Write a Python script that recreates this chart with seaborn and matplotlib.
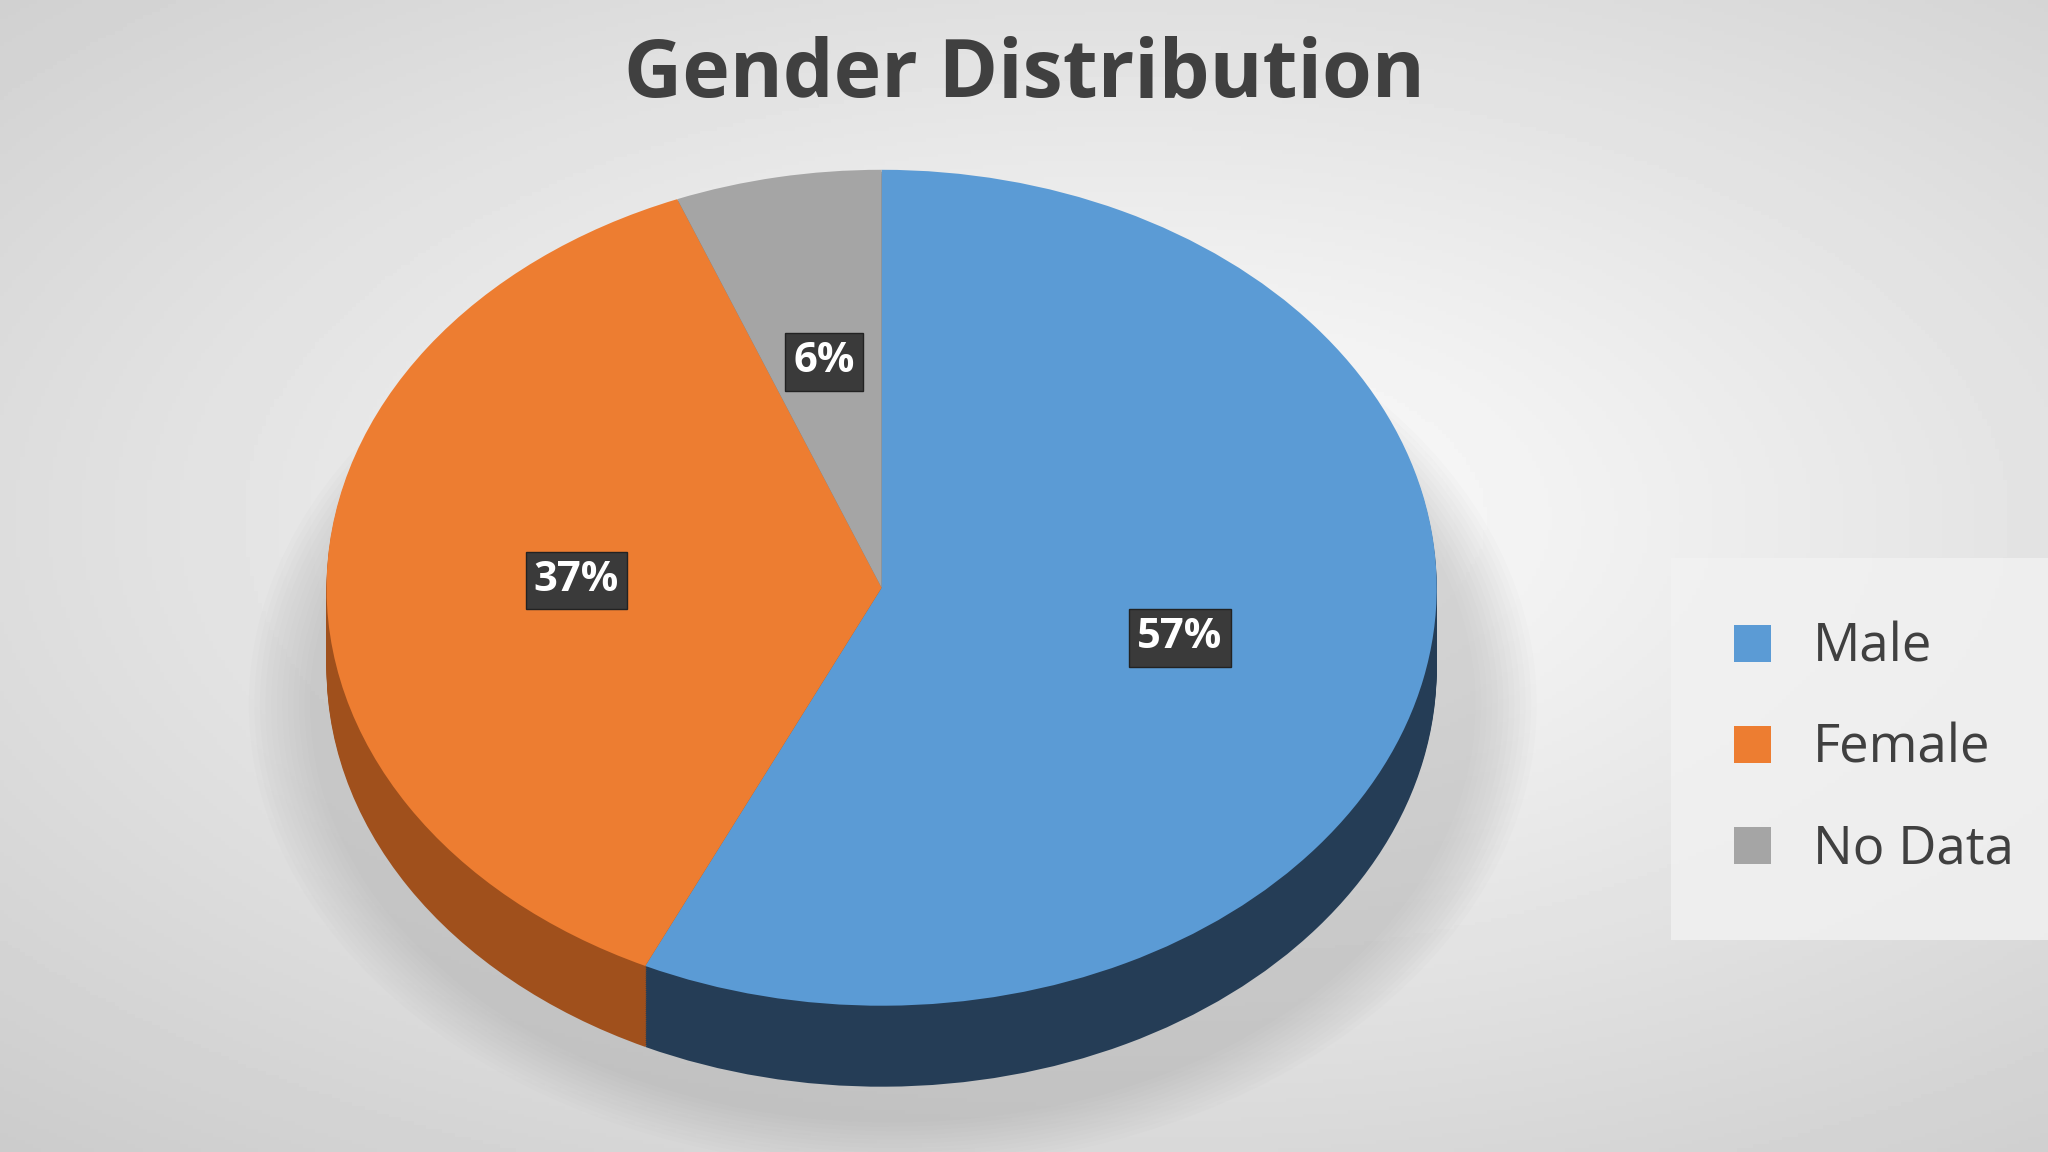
import numpy as np
import matplotlib.pyplot as plt
import seaborn as sns

sns.set_theme(style="white")
plt.rcParams['font.family'] = ['Open Sans', 'DejaVu Sans']

categories = ["Male", "Female", "No Data"]
shares = [57, 37, 6]
top_colors = ["#5b9bd5", "#ed7d31", "#a5a5a5"]
side_colors = ["#253d56", "#a0501c", "#6e6e6e"]

fig = plt.figure(figsize=(20.48, 11.52), dpi=100)

# radial grey background
bg = fig.add_axes([0, 0, 1, 1])
yy, xx = np.mgrid[0:1:300j, 0:1:500j]
r = np.sqrt(((xx - 0.55) / 0.9) ** 2 + ((yy - 0.45) / 0.8) ** 2)
bg.imshow(1 - 0.22 * np.clip(r, 0, 1), cmap="gray", vmin=0, vmax=1, aspect="auto", extent=(0, 1, 0, 1))
bg.axis("off")

# pie axes: unit circle maps onto the ellipse of the reference
W, H = 1568, 882
cx, cy, rx, ry = 675, 450, 425, 320
ax = fig.add_axes([0, 0, 1, 1])
ax.patch.set_alpha(0)
xlim = (-cx / rx, (W - cx) / rx)
ylim = (-(H - cy) / ry, cy / ry)

# soft shadow
for k in range(12):
    ax.add_patch(plt.matplotlib.patches.Ellipse((0.02, -0.28), 2.1 + k * 0.02, 2.0 + k * 0.02,
                                                color="#9a9a9a", alpha=0.03, lw=0))

depth = 62 / ry
for d in np.linspace(depth, 0, 40)[:-1]:
    ax.pie(shares, colors=side_colors, startangle=90, counterclock=False,
           center=(0, -d), radius=1, wedgeprops=dict(linewidth=0))

wedges, texts, autotexts = ax.pie(
    shares, colors=top_colors, startangle=90, counterclock=False,
    autopct="%1.0f%%", pctdistance=0.55, radius=1,
    wedgeprops=dict(linewidth=0),
    textprops=dict(color="white", fontsize=30, fontweight="bold"))
for t in autotexts:
    t.set_bbox(dict(boxstyle="square,pad=0.2", fc="#3a3a3a", ec="#222222", lw=1))

ax.set_xlim(*xlim)
ax.set_ylim(*ylim)
ax.set_aspect("auto")
ax.axis("off")

fig.text(0.5, 0.935, "Gender Distribution", ha="center", va="center",
         fontsize=58, fontweight="bold", color="#404040")

leg = fig.legend(wedges, categories, loc="center", bbox_to_anchor=(0.915, 0.35),
                 fontsize=38, frameon=True, handlelength=0.7, handleheight=0.7,
                 labelspacing=0.9, borderpad=0.9, labelcolor="#404040")
leg.get_frame().set_facecolor("#f2f2f2")
leg.get_frame().set_edgecolor("none")
leg.get_frame().set_boxstyle("square")

fig.savefig("out.png", dpi=100)
